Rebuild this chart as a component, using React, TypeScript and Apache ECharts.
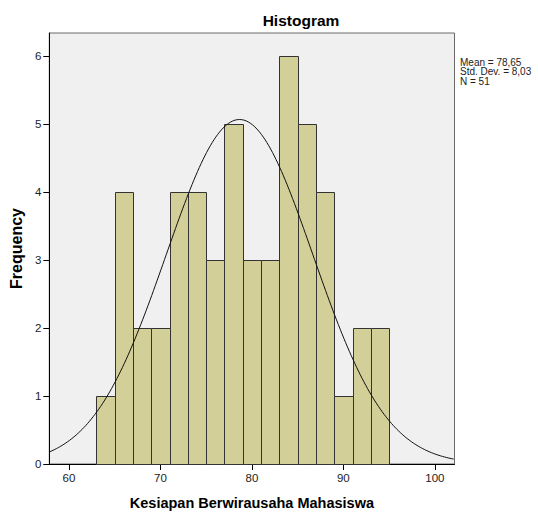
import React, { useEffect, useRef } from "react";
import * as echarts from "echarts";

const binStarts = [63, 65, 67, 69, 71, 73, 75, 77, 79, 81, 83, 85, 87, 89, 91, 93];
const binWidth = 2;
const counts = [1, 4, 2, 2, 4, 4, 3, 5, 3, 3, 6, 5, 4, 1, 2, 2];
const xTicks = [60, 70, 80, 90, 100];
const yTicks = [0, 1, 2, 3, 4, 5, 6];
const mean = 78.65;
const stdDev = 8.03;
const n = 51;
const statLines = ["Mean = 78,65", "Std. Dev. = 8,03", "N = 51"];

const X_MIN = 57.85;
const X_MAX = 102.15;
const Y_MAX = 6.34;
const FONT = "Arial, 'Liberation Sans', sans-serif";

export default function App() {
  const ref = useRef<HTMLDivElement>(null);
  useEffect(() => {
    document.body.style.margin = "0";
    const chart = echarts.init(ref.current!, null, { renderer: "svg" });
    const barData = binStarts.map((s, i) => [s, s + binWidth, counts[i]]);
    const curve: number[][] = [];
    const scale = n * binWidth;
    for (let x = X_MIN; x <= X_MAX + 1e-9; x += 0.2) {
      const z = (x - mean) / stdDev;
      curve.push([x, (scale / (stdDev * Math.sqrt(2 * Math.PI))) * Math.exp(-0.5 * z * z)]);
    }
    chart.setOption({
      animation: false,
      backgroundColor: "#ffffff",
      textStyle: { fontFamily: FONT },
      grid: {
        left: 45,
        right: 83.5,
        top: 33,
        bottom: 49,
        show: true,
        backgroundColor: "#f0f0f0",
        borderColor: "#6a6a6a",
        borderWidth: 1,
      },
      graphic: [
        {
          type: "text",
          x: 301,
          y: 20,
          style: {
            text: "Histogram",
            font: `bold 15.5px ${FONT}`,
            fill: "#000",
            textAlign: "center",
            textVerticalAlign: "middle",
          },
        },
        {
          type: "text",
          x: 460,
          y: 57.5,
          style: {
            text: statLines.join("\n"),
            font: `10px ${FONT}`,
            lineHeight: 9.5,
            fill: "#222",
            textAlign: "left",
            textVerticalAlign: "top",
          },
        },
      ],
      xAxis: {
        type: "value",
        min: X_MIN,
        max: X_MAX,
        name: "Kesiapan Berwirausaha Mahasiswa",
        nameLocation: "middle",
        nameGap: 31,
        nameTextStyle: { fontSize: 14.5, fontWeight: "bold", color: "#000", fontFamily: FONT },
        axisLine: { show: true, lineStyle: { color: "#000", width: 1 } },
        axisTick: { show: true, length: 6, customValues: xTicks, lineStyle: { color: "#000" } },
        axisLabel: { customValues: xTicks, fontSize: 11.5, color: "#222", margin: 8, fontFamily: FONT },
        splitLine: { show: false },
      },
      yAxis: {
        type: "value",
        min: 0,
        max: Y_MAX,
        name: "Frequency",
        nameLocation: "middle",
        nameGap: 22,
        nameRotate: 90,
        nameTextStyle: { fontSize: 16, fontWeight: "bold", color: "#000", fontFamily: FONT },
        axisLine: { show: true, lineStyle: { color: "#000", width: 1 } },
        axisTick: { show: true, length: 6, customValues: yTicks, lineStyle: { color: "#000" } },
        axisLabel: { customValues: yTicks, fontSize: 11.5, color: "#222", margin: 8, fontFamily: FONT },
        splitLine: { show: false },
      },
      series: [
        {
          type: "custom",
          data: barData,
          encode: { x: [0, 1], y: 2 },
          renderItem: (params: any, api: any) => {
            const p0 = api.coord([api.value(0), api.value(2)]);
            const p1 = api.coord([api.value(1), 0]);
            return {
              type: "rect",
              shape: {
                x: Math.round(p0[0]) + 0.5,
                y: Math.round(p0[1]) + 0.5,
                width: Math.round(p1[0]) - Math.round(p0[0]),
                height: Math.round(p1[1]) - Math.round(p0[1]),
              },
              style: { fill: "#d3cf98", stroke: "#333", lineWidth: 1 },
            };
          },
        },
        {
          type: "line",
          data: curve,
          showSymbol: false,
          symbol: "none",
          smooth: false,
          lineStyle: { color: "#111", width: 1 },
          z: 5,
        },
      ],
    });
    return () => chart.dispose();
  }, []);
  return <div ref={ref} style={{ width: 538, height: 515 }} />;
}
